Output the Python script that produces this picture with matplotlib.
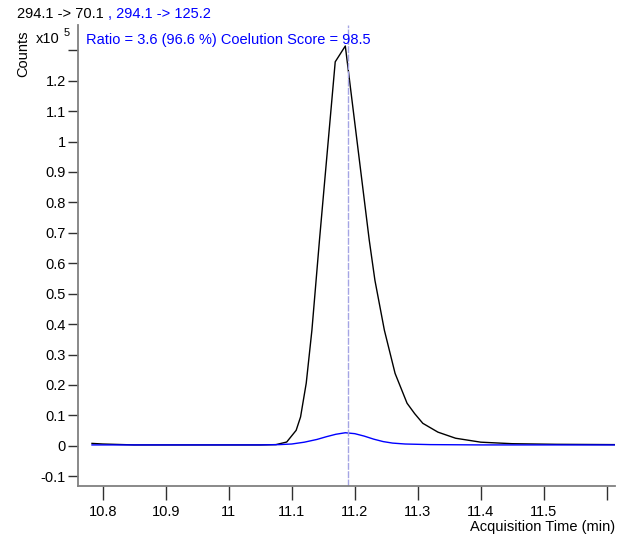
import matplotlib
matplotlib.use("Agg")
import matplotlib.pyplot as plt

plt.rcParams['font.family'] = ['Liberation Sans', 'DejaVu Sans']

# Quantifier transition 294.1 -> 70.1 (counts x 10^5)
quant_time = [10.783, 10.80, 10.85, 10.95, 11.05, 11.075, 11.092, 11.107, 11.114,
              11.123, 11.132, 11.144, 11.169, 11.185, 11.223, 11.232, 11.247,
              11.264, 11.283, 11.295, 11.308, 11.332, 11.36, 11.40, 11.45, 11.52, 11.613]
quant_counts = [0.008, 0.006, 0.003, 0.003, 0.003, 0.004, 0.0125, 0.051, 0.095,
                0.206, 0.380, 0.676, 1.262, 1.314, 0.676, 0.544, 0.380,
                0.238, 0.140, 0.106, 0.074, 0.045, 0.025, 0.012, 0.007, 0.005, 0.004]

# Qualifier transition 294.1 -> 125.2 (counts x 10^5)
qual_time = [10.783, 10.90, 11.05, 11.08, 11.10, 11.12, 11.14, 11.155, 11.17, 11.185,
             11.20, 11.215, 11.23, 11.245, 11.26, 11.28, 11.32, 11.40, 11.613]
qual_counts = [0.003, 0.003, 0.003, 0.004, 0.006, 0.012, 0.021, 0.030, 0.038, 0.043,
               0.040, 0.032, 0.022, 0.014, 0.009, 0.006, 0.004, 0.003, 0.003]

retention_time = 11.190

x_ticks = [10.8, 10.9, 11.0, 11.1, 11.2, 11.3, 11.4, 11.5, 11.6]
x_tick_labels = ["10.8", "10.9", "11", "11.1", "11.2", "11.3", "11.4", "11.5", ""]
y_ticks = [-0.1, 0, 0.1, 0.2, 0.3, 0.4, 0.5, 0.6, 0.7, 0.8, 0.9, 1.0, 1.1, 1.2, 1.3]
y_tick_labels = ["-0.1", "0", "0.1", "0.2", "0.3", "0.4", "0.5", "0.6", "0.7",
                 "0.8", "0.9", "1", "1.1", "1.2", ""]

W, H = 621, 539
fig = plt.figure(figsize=(W / 100, H / 100), dpi=100)
ax = fig.add_axes([77.5 / W, 1 - 486 / H, 537.5 / W, 461 / H])

ax.plot(quant_time, quant_counts, color="black", lw=1.0)
ax.plot(qual_time, qual_counts, color="#0000ff", lw=1.0)
ax.axvline(retention_time, color="#a4a4e4", lw=1.0, ls=(0, (5, 1)))

ax.set_xlim(10.760, 11.613)
ax.set_ylim(-0.132, 1.383)
ax.set_xticks(x_ticks)
ax.set_xticklabels(x_tick_labels)
ax.set_yticks(y_ticks)
ax.set_yticklabels(y_tick_labels)

for side in ("top", "right"):
    ax.spines[side].set_visible(False)
for side in ("left", "bottom"):
    ax.spines[side].set_color("#808080")
    ax.spines[side].set_linewidth(1.3)
ax.tick_params(axis="x", direction="out", length=10, width=1, color="#303030",
               labelsize=10.5, pad=4)
ax.tick_params(axis="y", direction="out", length=7, width=1, color="#303030",
               labelsize=10.5, pad=1.5)


def px_text(x, y, s, **kw):
    fig.text(x / W, 1 - y / H, s, **kw)


# Header texts
px_text(17, 14, "294.1 -> 70.1", fontsize=10.5, color="black", va="center", ha="left")
px_text(108, 14, ", 294.1 -> 125.2", fontsize=10.5, color="#0000ff",
        va="center", ha="left")
px_text(36, 39, "x10", fontsize=10.5, color="black", va="center", ha="left")
px_text(64, 33, "5", fontsize=8, color="black", va="center", ha="left")
px_text(23, 54, "Counts", fontsize=10.5, color="black", va="center", ha="center",
        rotation=90)
px_text(86, 40, "Ratio = 3.6 (96.6 %) Coelution Score = 98.5", fontsize=10.5,
        color="#0000ff", va="center", ha="left")
px_text(615, 527, "Acquisition Time (min)", fontsize=10.5, color="black",
        va="center", ha="right")

fig.savefig("out.png", dpi=100)
